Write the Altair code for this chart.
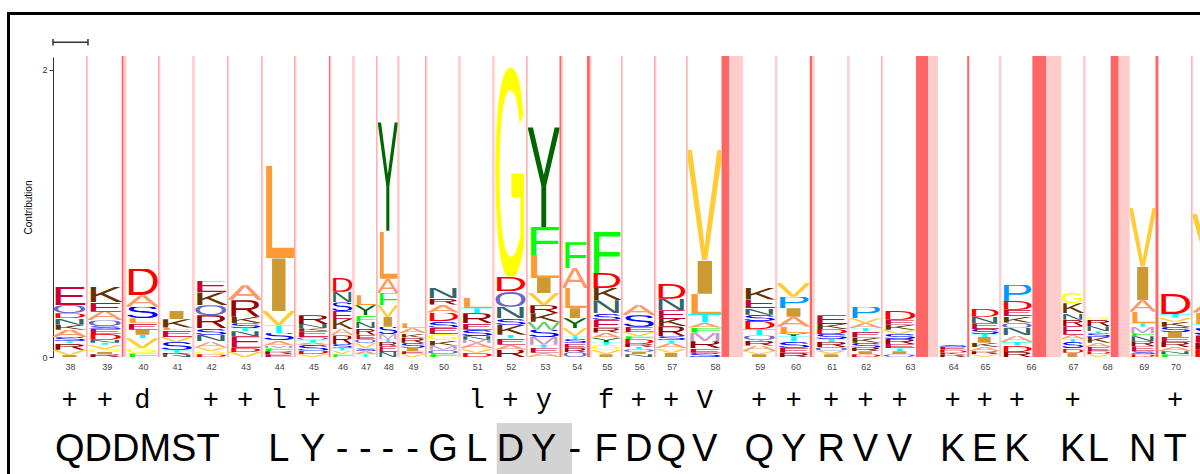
import altair as alt
import pandas as pd
import numpy as np
from urllib.parse import quote

# ---------------- data ----------------
columns = list(range(38, 72))
col_width = [35, 38.4, 34, 34.3, 34.3, 34, 33.4, 35, 23.3, 23.3, 21.7, 27.7, 33.3, 34, 33.3, 35,
             28.4, 31.6, 33.4, 31.6, 55, 34.4, 37.3, 35, 33.3, 55, 31.7, 31.7, 60, 24.3, 44, 29.3, 34, 34]
insert_dark = [0.6, 2, 0.6, 0.6, 0.6, 0.6, 0.6, 1.5, 0.6, 0.6, 0.6, 0.6, 0.6, 0.6, 0.6, 2, 3,
               0.6, 0.6, 0.6, 7.5, 0.3, 2.5, 0.6, 0.6, 12, 2, 0.3, 14, 0.3, 8, 3, 0.6, 0.6]
insert_light = [1.4, 2.7, 1.4, 1.4, 1.4, 1.4, 1.4, 1, 1.4, 1.4, 1.4, 1.4, 1.4, 1.4, 1.4, 1.5, 1.5,
                1.4, 1.4, 1.4, 14, 1.7, 2.5, 1.4, 1.4, 10, 0.5, 1.7, 15, 1.7, 11, 0.5, 1.4, 1.4]

# letters of each column, top -> bottom, with their contribution (bits)
stacks = [
    [("E", .13), ("Q", .055), ("D", .035), ("N", .045), ("K", .035), ("A", .05), ("S", .03), ("T", .015), ("R", .045), ("V", .035), ("I", .015)],
    [("K", .11), ("E", .065), ("A", .06), ("Q", .04), ("S", .02), ("E", .035), ("D", .04), ("N", .02), ("T", .015), ("V", .03), ("G", .02), ("I", .015), ("R", .02)],
    [("D", .185), ("A", .08), ("S", .08), ("L", .035), ("E", .045), ("I", .035), ("T", .025), ("V", .07), ("G", .035), ("F", .025)],
    [("I", .058), ("K", .058), ("L", .02), ("E", .045), ("V", .035), ("S", .055), ("T", .02), ("R", .015), ("N", .015)],
    [("E", .08), ("K", .09), ("Q", .07), ("R", .09), ("S", .045), ("N", .045), ("A", .045), ("V", .025), ("G", .02), ("D", .02)],
    [("A", .105), ("R", .115), ("K", .045), ("S", .035), ("T", .02), ("N", .035), ("E", .08), ("D", .03), ("V", .035)],
    [("L", .655), ("I", .37), ("V", .1), ("T", .055), ("S", .05), ("A", .035), ("M", .02), ("F", .02), ("R", .02), ("E", .02)],
    [("R", .06), ("N", .03), ("K", .02), ("E", .04), ("Q", .02), ("T", .02), ("A", .015), ("S", .04), ("D", .025), ("V", .02)],
    [("D", .1), ("N", .075), ("S", .06), ("E", .055), ("K", .07), ("A", .045), ("R", .06), ("S", .025), ("T", .02), ("V", .025), ("F", .02)],
    [("L", .07), ("Y", .07), ("F", .045), ("N", .045), ("R", .045), ("E", .03), ("Q", .03), ("V", .035), ("S", .02), ("A", .02), ("T", .02)],
    [("Y", .77), ("L", .335), ("A", .1), ("F", .085), ("V", .08), ("I", .07), ("S", .05), ("M", .035), ("T", .02), ("R", .03), ("E", .04), ("N", .035)],
    [("L", .035), ("A", .035), ("K", .03), ("R", .035), ("S", .035), ("I", .025), ("E", .02), ("V", .02)],
    [("N", .07), ("R", .045), ("A", .055), ("D", .06), ("S", .045), ("E", .045), ("G", .045), ("K", .035), ("M", .03), ("Q", .03), ("F", .02)],
    [("L", .075), ("T", .035), ("R", .07), ("E", .045), ("S", .045), ("N", .025), ("M", .025), ("A", .035), ("V", .03), ("D", .03)],
    [("G", 1.46), ("D", .1), ("Q", .11), ("N", .08), ("S", .045), ("K", .07), ("T", .025), ("E", .045), ("A", .035), ("R", .05)],
    [("Y", .71), ("F", .195), ("L", .16), ("I", .105), ("V", .085), ("R", .055), ("K", .06), ("W", .055), ("S", .05), ("M", .055), ("T", .02), ("E", .035), ("A", .03)],
    [("F", .18), ("A", .14), ("L", .14), ("I", .07), ("Y", .07), ("V", .055), ("T", .02), ("S", .03), ("E", .03), ("R", .03), ("Q", .035)],
    [("F", .285), ("D", .105), ("K", .085), ("N", .09), ("S", .045), ("E", .055), ("R", .035), ("A", .035), ("Y", .03), ("T", .02), ("G", .035), ("V", .03), ("I", .02)],
    [("A", .07), ("S", .08), ("E", .035), ("V", .03), ("F", .02), ("D", .035), ("R", .02), ("T", .015), ("Q", .02), ("I", .015), ("N", .02)],
    [("D", .105), ("N", .08), ("E", .06), ("K", .05), ("R", .07), ("S", .03), ("T", .02), ("A", .035), ("V", .03), ("I", .03)],
    [("V", .78), ("I", .235), ("L", .14), ("T", .06), ("A", .035), ("F", .035), ("M", .06), ("R", .05), ("E", .03), ("S", .03)],
    [("K", .08), ("E", .06), ("N", .045), ("S", .045), ("D", .055), ("T", .045), ("Q", .035), ("R", .035), ("A", .04), ("V", .02), ("I", .02)],
    [("V", .1), ("P", .08), ("I", .06), ("A", .07), ("L", .045), ("Y", .02), ("T", .035), ("S", .045), ("E", .035), ("R", .03)],
    [("E", .06), ("K", .035), ("D", .035), ("S", .035), ("T", .02), ("R", .035), ("Q", .025), ("V", .025), ("I", .02)],
    [("P", .08), ("V", .035), ("A", .035), ("T", .02), ("E", .045), ("K", .035), ("S", .035), ("R", .025), ("I", .02), ("D", .02)],
    [("D", .06), ("E", .035), ("K", .035), ("V", .03), ("S", .035), ("R", .035), ("E", .03), ("T", .02), ("I", .02), ("Q", .02)],
    [("S", .015), ("E", .02), ("D", .02), ("K", .015), ("R", .015)],
    [("D", .055), ("N", .045), ("E", .04), ("S", .035), ("T", .02), ("I", .04), ("K", .03), ("A", .03), ("R", .02), ("V", .02)],
    [("P", .115), ("D", .06), ("E", .045), ("K", .045), ("Q", .035), ("N", .055), ("A", .045), ("T", .025), ("D", .045), ("R", .035)],
    [("G", .07), ("K", .07), ("N", .045), ("R", .045), ("E", .06), ("A", .03), ("T", .02), ("S", .045), ("D", .03), ("I", .03)],
    [("G", .02), ("R", .045), ("N", .035), ("T", .015), ("S", .025), ("K", .04), ("A", .03), ("E", .03), ("D", .02), ("V", .02)],
    [("V", .42), ("I", .235), ("A", .08), ("L", .08), ("T", .025), ("M", .045), ("F", .02), ("N", .035), ("R", .035), ("E", .035), ("S", .02), ("D", .02)],
    [("D", .14), ("T", .025), ("V", .03), ("K", .035), ("S", .035), ("I", .035), ("E", .035), ("R", .035), ("A", .03), ("N", .02), ("F", .02)],
    [("V", .36), ("I", .25), ("A", .08), ("L", .08), ("T", .03), ("S", .05), ("E", .05), ("R", .05), ("D", .05)],
]

consensus = ['+', '+', 'd', ' ', '+', '+', 'l', '+', ' ', ' ', ' ', ' ', ' ', 'l', '+', 'y', ' ', 'f',
             '+', '+', 'V', '+', '+', '+', '+', '+', '+', '+', '+', '+', ' ', ' ', '+', ' ']
sequence = ['QDDMST', '', '', '', '', '', 'L', 'Y', '-', '-', '-', '-', 'G', 'L', 'D', 'Y', '-', 'F',
            'D', 'Q', 'V', 'Q', 'Y', 'R', 'V', 'V', 'K', 'E', 'K', 'K', 'L', 'N', 'T', '']
highlight_cols = [52, 53]
last_labelled_col = 70

# ---------------- styles ----------------
COLORS = {'A': '#FF9966', 'C': '#009999', 'D': '#FF0000', 'E': '#CC0033', 'F': '#00FF00',
          'G': '#FFFF00', 'H': '#660033', 'I': '#CC9933', 'K': '#663300', 'L': '#FF9933',
          'M': '#CC99CC', 'N': '#336666', 'P': '#0099FF', 'Q': '#6666CC', 'R': '#990000',
          'S': '#0000FF', 'T': '#00FFFF', 'V': '#FFCC33', 'W': '#66CC66', 'Y': '#006600'}
ADV = {'A': 66.7, 'C': 72.2, 'D': 72.2, 'E': 66.7, 'F': 61.1, 'G': 77.8, 'H': 72.2, 'I': 27.8,
       'K': 66.7, 'L': 55.6, 'M': 83.3, 'N': 72.2, 'P': 66.7, 'Q': 77.8, 'R': 72.2, 'S': 66.7,
       'T': 61.1, 'V': 66.7, 'W': 94.4, 'Y': 66.7}


def glyph(ch):
    a = ADV[ch]
    svg = ("<svg xmlns='http://www.w3.org/2000/svg' viewBox='3 -70 %.1f 70' preserveAspectRatio='none'>"
           "<text x='0' y='0' font-family='Liberation Sans, Arial, sans-serif' font-size='100' "
           "fill='%s'>%s</text></svg>") % (a - 6, COLORS[ch], ch)
    return "data:image/svg+xml;charset=utf-8," + quote(svg)


GLYPH = {k: glyph(k) for k in COLORS}

# ---------------- tables ----------------
w = np.array(col_width)
x_end = np.cumsum(w)
x_start = x_end - w
dark = np.array(insert_dark)
light = np.array(insert_light)
let_end = x_end - dark - light

cols = pd.DataFrame({
    'col': columns, 'x0': x_start, 'x1': x_end, 'xc': (x_start + x_end) / 2,
    'l1': let_end, 'lc': (x_start + let_end) / 2,
    'd0': let_end, 'd1': x_end - light, 'g0': x_end - light, 'g1': x_end,
    'cons': consensus, 'seq': sequence,
})

rows = []
for i, st in enumerate(stacks):
    n = len(st)
    for k, (ch, h) in enumerate(st):
        rows.append({'col': columns[i], 'order': n - k, 'letter': ch, 'h': h,
                     'x0': x_start[i], 'x1': let_end[i], 'url': GLYPH[ch]})
letters = pd.DataFrame(rows)

W, H = 1147, 300
xs = alt.Scale(domain=[0, W], nice=False, zero=False)
ys = alt.Scale(domain=[0, 2.09], nice=False, zero=True)

boundaries = sorted(set([float(v) for v in np.concatenate([x_start, x_end])]))
boundaries = [b for b in boundaries if b <= W]

base_cols = alt.Chart(cols)

dark_bands = base_cols.mark_rect(color='#ff6666').encode(
    x=alt.X('d0:Q', scale=xs, axis=alt.Axis(values=boundaries, labels=False, tickSize=4, title=None,
                                             grid=False, domainColor='#333', tickColor='#333')),
    x2='d1:Q', y=alt.value(-1), y2=alt.value(H))
light_bands = base_cols.mark_rect(color='#ffcccc').encode(
    x=alt.X('g0:Q', scale=xs, axis=None), x2='g1:Q', y=alt.value(-1), y2=alt.value(H))

logo = alt.Chart(letters).transform_stack(
    stack='h', groupby=['col'], sort=[alt.SortField('order', order='ascending')], as_=['y0', 'y1']
).mark_image(aspect=False).encode(
    x=alt.X('x0:Q', scale=xs, axis=None), x2='x1:Q',
    y=alt.Y('y0:Q', scale=ys, axis=alt.Axis(values=[0, 1, 2], format='d', tickSize=4, grid=False,
                                            labelFontSize=9, labelColor='#333', domainColor='#333',
                                            tickColor='#333', title='Contribution', titleFontSize=10,
                                            titleFontWeight='normal', titlePadding=8,
                                            titleFont='Liberation Sans', labelFont='Liberation Sans')),
    y2='y1:Q', url='url:N')

col_labels = base_cols.transform_filter(alt.datum.col <= last_labelled_col).mark_text(
    fontSize=9, color='#444', font='Liberation Sans', baseline='middle').encode(
    x=alt.X('xc:Q', scale=xs, axis=None), y=alt.value(H + 10), text='col:N')

cons_text = base_cols.mark_text(fontSize=27, font='Liberation Mono', color='black',
                                baseline='alphabetic').encode(
    x=alt.X('lc:Q', scale=xs, axis=None), y=alt.value(351), text='cons:N')

hl = base_cols.transform_filter(
    alt.FieldOneOfPredicate(field='col', oneOf=highlight_cols)
).transform_aggregate(h0='min(x0)', h1='max(x1)').mark_rect(
    color='#d3d3d3', xOffset=2, x2Offset=9).encode(
    x=alt.X('h0:Q', scale=xs, axis=None), x2='h1:Q', y=alt.value(366), y2=alt.value(420))

seq_single = base_cols.transform_filter('length(datum.seq) == 1').mark_text(
    fontSize=38, font='Liberation Sans', color='black', baseline='alphabetic').encode(
    x=alt.X('lc:Q', scale=xs, axis=None), y=alt.value(404), text='seq:N')
seq_multi = base_cols.transform_filter('length(datum.seq) > 1').mark_text(
    fontSize=38, font='Liberation Sans', color='black', baseline='alphabetic', align='left', dx=2).encode(
    x=alt.X('x0:Q', scale=xs, axis=None), y=alt.value(404), text='seq:N')

first = cols.iloc[[0]]
scale_bar = alt.Chart(first).mark_rule(color='#333', strokeWidth=1.5).encode(
    x=alt.X('x0:Q', scale=xs, axis=None), x2='x1:Q', y=alt.value(-14.7))
cap_l = alt.Chart(first).mark_rule(color='#333', strokeWidth=1.5).encode(
    x=alt.X('x0:Q', scale=xs, axis=None), y=alt.value(-18), y2=alt.value(-11.5))
cap_r = alt.Chart(first).mark_rule(color='#333', strokeWidth=1.5).encode(
    x=alt.X('x1:Q', scale=xs, axis=None), y=alt.value(-18), y2=alt.value(-11.5))

frame = alt.Chart(first).mark_rect(fillOpacity=0, stroke='black', strokeWidth=3).encode(
    x=alt.value(-44.5), x2=alt.value(1400), y=alt.value(-43.5), y2=alt.value(700))

chart = alt.layer(
    dark_bands, light_bands, logo, col_labels, cons_text, hl, seq_single, seq_multi,
    scale_bar, cap_l, cap_r, frame
).properties(
    width=W, height=H,
    padding={'left': 53, 'top': 57, 'right': 0, 'bottom': 117},
    autosize=alt.AutoSizeParams(type='none'),
    background='white'
).configure_view(strokeWidth=0)

chart.save("out.html", embed_options={"renderer": "svg", "actions": False})
